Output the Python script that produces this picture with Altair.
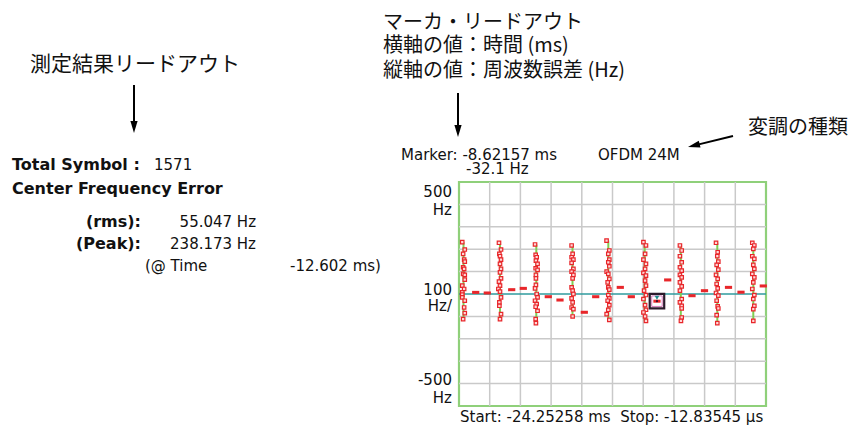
import altair as alt
import pandas as pd

# ---------------- data ----------------
T_START, T_STOP = -24.25258, -0.01283545   # ms
Y_MIN, Y_MAX = -500, 500                    # Hz

cluster_time = [-23.897, -21.015, -18.149, -15.291, -12.464, -9.590, -6.739, -3.858, -1.015]
cluster_hz = [
    [231.4, 198.6, 179.4, 153.8, 144.8, 119.3, 112.1, 89.7, 85.2, 64.1, 37.2, 22.4, 7.2, -3.1, -15.2, -30.0, -60.1, -85.2, -112.1],
    [228.7, 198.6, 179.4, 168.6, 153.8, 134.5, 112.1, 96.9, 70.0, 55.2, 37.2, 22.4, 10.3, -15.2, -37.7, -52.5, -89.7, -112.1],
    [221.1, 174.9, 164.1, 149.3, 134.5, 114.8, 107.6, 85.2, 70.0, 40.4, 25.1, 0.0, -15.2, -30.0, -44.8, -56.9, -74.9, -112.1, -130.0],
    [216.6, 179.4, 164.1, 153.8, 139.0, 112.1, 100.0, 85.2, 70.0, 29.6, 14.8, 0.0, -19.7, -37.7, -60.1, -67.3, -100.4],
    [238.173, 194.2, 179.4, 153.8, 141.7, 123.8, 100.0, 89.7, 67.3, 52.0, 29.6, 19.3, -4.5, -19.7, -30.0, -49.3, -70.4, -89.7, -115.2],
    [231.4, 216.6, 179.4, 153.8, 134.5, 112.1, 94.2, 82.1, 59.6, 37.2, 14.8, -4.5, -22.4, -49.3, -70.4, -82.5, -100.4, -119.7],
    [216.6, 194.2, 168.6, 141.7, 119.3, 104.5, 85.2, 74.4, 52.0, 34.1, 14.8, -22.4, -37.7, -52.5, -64.6, -104.9, -119.7],
    [228.7, 186.5, 168.6, 144.8, 130.0, 109.0, 85.2, 67.3, 44.8, 25.1, 4.5, -7.6, -30.0, -55.6, -64.6, -94.2, -130.0],
    [228.7, 216.6, 201.8, 168.6, 156.9, 130.0, 112.1, 89.7, 74.4, 52.0, 22.4, -4.5, -22.4, -52.5, -67.3, -119.7],
]
cluster_dt = [
    [-0.10, 0.10, -0.03, 0.05, 0.10, -0.03, 0.05, -0.03, 0.10, 0.10, -0.10, 0.05, -0.10, -0.10, -0.10, 0.10, 0.05, 0.10, -0.03],
    [-0.08, 0.08, -0.05, 0.0, 0.08, 0.0, 0.08, 0.0, 0.08, -0.08, 0.0, -0.13, 0.0, 0.08, -0.05, -0.05, 0.08, 0.0],
    [-0.10, -0.05, 0.03, -0.03, 0.10, -0.05, 0.10, -0.03, -0.03, -0.03, -0.10, 0.03, 0.10, -0.10, 0.03, -0.05, 0.10, -0.05, -0.03],
    [-0.07, 0.01, -0.07, 0.07, -0.07, 0.07, -0.07, 0.07, 0.01, -0.07, 0.01, 0.07, -0.07, 0.01, -0.07, 0.07, 0.01],
    [-0.138, 0.08, 0.0, 0.08, 0.0, 0.08, -0.13, 0.0, 0.08, -0.05, 0.0, 0.08, 0.0, 0.08, -0.05, 0.08, 0.0, -0.13, 0.08],
    [-0.10, 0.10, 0.03, -0.10, 0.10, 0.03, -0.10, 0.10, 0.03, 0.10, -0.05, 0.10, -0.10, 0.03, 0.10, -0.10, 0.03, 0.10],
    [-0.07, 0.07, -0.07, 0.07, -0.07, 0.07, -0.07, 0.07, -0.07, 0.07, -0.07, 0.07, -0.07, 0.07, 0.07, 0.07, 0.01],
    [-0.10, 0.03, 0.0, 0.08, -0.05, 0.08, -0.10, 0.03, -0.05, 0.03, -0.10, 0.08, -0.05, 0.03, 0.08, -0.05, 0.0],
    [-0.08, 0.08, 0.0, -0.08, 0.08, 0.0, 0.08, -0.08, 0.08, 0.0, -0.08, 0.08, 0.0, 0.08, 0.0, 0.0],
]
gap_time = [-22.934, -22.018, -20.092, -19.176, -17.202, -16.278, -14.359, -13.459, -11.517,
            -10.648, -8.62157, -7.774, -5.856, -4.869, -2.974, -1.987, -0.226]
gap_hz = [7.2, 4.5, 19.3, 25.1, -12.1, -26.9, -81.6, -12.1, 29.6,
          -12.1, -32.1, 62.8, -7.6, 14.8, 29.6, 8.1, 35.9]
marker_time = [-8.62157]
marker_hz = [-32.1]

y_grid = [-400, -300, -200, -100, 100, 200, 300, 400]

# text annotations (absolute page pixel positions)
cjk_texts = ["測定結果リードアウト", "マーカ・リードアウト", "横軸の値：時間 (ms)", "縦軸の値：周波数誤差 (Hz)", "変調の種類"]
cjk_x = [30, 383, 383, 383, 748]
cjk_y = [65, 23, 46, 71, 128]
cjk_size = [21, 20, 20, 20, 20]

bold_l_texts = ["Total Symbol :", "Center Frequency Error"]
bold_l_x = [12, 12]
bold_l_y = [170, 194]

bold_r_texts = ["(rms):", "(Peak):"]
bold_r_x = [141, 141]
bold_r_y = [227, 249]

reg_l_texts = ["1571", "(@ Time", "-12.602 ms)", "Marker: -8.62157 ms", "OFDM 24M", "-32.1 Hz",
               "Start: -24.25258 ms\u00a0\u00a0Stop: -12.83545 µs"]
reg_l_x = [154, 145, 290, 401, 598, 466, 460]
reg_l_y = [170, 271, 271, 160, 160, 174, 422]

reg_r_texts = ["55.047 Hz", "238.173 Hz", "500", "Hz", "100", "Hz/", "-500", "Hz"]
reg_r_x = [256, 256, 452, 452, 452, 452, 452, 452]
reg_r_y = [227, 249, 197, 215, 295, 311, 385, 403]

# arrows: (x1, y1) -> tip (x2, y2)
arrow_x1 = [134, 458, 733]
arrow_y1 = [85, 93, 136]
arrow_x2 = [134, 458, 688]
arrow_y2 = [133, 137, 147]
arrow_angle = [0, 0, 76]

# ---------------- layout ----------------
PAD_L, PAD_T, PAD_R, PAD_B = 459, 182, 94, 22
W, H = 860 - PAD_L - PAD_R, 428 - PAD_T - PAD_B

xs = alt.Scale(domain=[T_START, T_STOP], nice=False, zero=False)
ys = alt.Scale(domain=[Y_MIN, Y_MAX], nice=False, zero=False)

rows = []
for i, (tc, hz_list, dt_list) in enumerate(zip(cluster_time, cluster_hz, cluster_dt)):
    for hz, dt in zip(hz_list, dt_list):
        rows.append({"cluster": i, "tc": tc, "t": tc + dt, "hz": hz})
pts = pd.DataFrame(rows)
gaps = pd.DataFrame({"t": gap_time, "hz": gap_hz})
mk = pd.DataFrame({"t": marker_time, "hz": marker_hz})

step = (T_STOP - T_START) / 10
xg = pd.DataFrame({"t": [T_START + step * k for k in range(1, 10)]})
yg = pd.DataFrame({"hz": y_grid})

GRID = "#c9c9c9"
vgrid = alt.Chart(xg).mark_rule(color=GRID, strokeWidth=1.5).encode(
    x=alt.X("t:Q", scale=xs, axis=None))
hgrid = alt.Chart(yg).mark_rule(color=GRID, strokeWidth=1.5).encode(
    y=alt.Y("hz:Q", scale=ys, axis=None))
zero = alt.Chart(pd.DataFrame({"hz": [0]})).mark_rule(color="#2f9b9e", strokeWidth=1.6).encode(
    y=alt.Y("hz:Q", scale=ys, axis=None))

lines = alt.Chart(pts).mark_line(color="#7fcf52", strokeWidth=2).encode(
    x=alt.X("tc:Q", scale=xs, axis=None),
    y=alt.Y("hz:Q", scale=ys, axis=None),
    detail="cluster:N",
    order="hz:Q")
squares = alt.Chart(pts).mark_point(shape="square", filled=True, fill="#ffd6d6", stroke="#e8262a",
                                    strokeWidth=1.2, size=12, opacity=1).encode(
    x=alt.X("t:Q", scale=xs, axis=None),
    y=alt.Y("hz:Q", scale=ys, axis=None))
dashes = alt.Chart(gaps).mark_point(shape="M-1,-0.42L1,-0.42L1,0.42L-1,0.42Z", filled=True,
                                    color="#e8262a", size=52, opacity=1).encode(
    x=alt.X("t:Q", scale=xs, axis=None),
    y=alt.Y("hz:Q", scale=ys, axis=None))

mk_outer = alt.Chart(mk).mark_point(shape="square", filled=False, stroke="#2b1a2b", strokeWidth=2.2,
                                    size=210, opacity=1).encode(
    x=alt.X("t:Q", scale=xs, axis=None), y=alt.Y("hz:Q", scale=ys, axis=None))
mk_inner = alt.Chart(mk).mark_point(shape="square", filled=False, stroke="#d27cba", strokeWidth=1,
                                    size=110, opacity=1).encode(
    x=alt.X("t:Q", scale=xs, axis=None), y=alt.Y("hz:Q", scale=ys, axis=None))
mk_tri = alt.Chart(mk).mark_point(shape="triangle-down", filled=True, color="#1f8c8c", size=22,
                                  opacity=1, yOffset=-3.5).encode(
    x=alt.X("t:Q", scale=xs, axis=None), y=alt.Y("hz:Q", scale=ys, axis=None))
mk_dot = alt.Chart(mk).mark_point(shape="circle", filled=True, color="#3a1030", size=5,
                                  opacity=1).encode(
    x=alt.X("t:Q", scale=xs, axis=None), y=alt.Y("hz:Q", scale=ys, axis=None))


def text_layer(texts, xs_px, ys_px, font, size, weight, align, baseline, sizes=None):
    df = pd.DataFrame({"text": texts,
                       "px": [v - PAD_L for v in xs_px],
                       "py": [v - PAD_T for v in ys_px],
                       "fs": sizes if sizes is not None else [size] * len(texts)})
    return alt.Chart(df).mark_text(font=font, fontWeight=weight, align=align,
                                   baseline=baseline, color="#111111").encode(
        x=alt.X("px:Q", scale=None), y=alt.Y("py:Q", scale=None), text="text:N",
        size=alt.Size("fs:Q", scale=None, legend=None))


LAT = "DejaVu Sans"
t_cjk = text_layer(cjk_texts, cjk_x, cjk_y, "Noto Sans CJK JP", 20, "normal", "left", "middle", cjk_size)
t_bl = text_layer(bold_l_texts, bold_l_x, bold_l_y, LAT, 16, "bold", "left", "alphabetic")
t_br = text_layer(bold_r_texts, bold_r_x, bold_r_y, LAT, 16, "bold", "right", "alphabetic")
t_rl = text_layer(reg_l_texts, reg_l_x, reg_l_y, LAT, 15, "normal", "left", "alphabetic")
t_rr = text_layer(reg_r_texts, reg_r_x, reg_r_y, LAT, 15, "normal", "right", "alphabetic")

arr = pd.DataFrame({"x1": [v - PAD_L for v in arrow_x1], "y1": [v - PAD_T for v in arrow_y1],
                    "x2": [v - PAD_L for v in arrow_x2], "y2": [v - PAD_T for v in arrow_y2],
                    "ang": arrow_angle})
arr["len"] = ((arr.x2 - arr.x1) ** 2 + (arr.y2 - arr.y1) ** 2) ** 0.5
arr["hx"] = arr.x2 - (arr.x2 - arr.x1) / arr["len"] * 6
arr["hy"] = arr.y2 - (arr.y2 - arr.y1) / arr["len"] * 6
arr["sx"] = arr.x2 - (arr.x2 - arr.x1) / arr["len"] * 9
arr["sy"] = arr.y2 - (arr.y2 - arr.y1) / arr["len"] * 9

shafts = alt.Chart(arr).mark_rule(color="#000000", strokeWidth=2).encode(
    x=alt.X("x1:Q", scale=None), y=alt.Y("y1:Q", scale=None), x2="sx:Q", y2="sy:Q")
heads = alt.Chart(arr).mark_point(shape="M0,1L-0.6,-1L0.6,-1Z", filled=True, color="#000000",
                                  size=144, opacity=1).encode(
    x=alt.X("hx:Q", scale=None), y=alt.Y("hy:Q", scale=None), angle=alt.Angle("ang:Q", scale=None))

chart = alt.layer(
    vgrid, hgrid, zero, lines, squares, dashes, mk_outer, mk_inner, mk_tri, mk_dot,
    t_cjk, t_bl, t_br, t_rl, t_rr, shafts, heads
).properties(
    width=W, height=H,
    padding={"left": PAD_L, "top": PAD_T, "right": PAD_R, "bottom": PAD_B},
    autosize=alt.AutoSizeParams(type="none"),
    background="white",
).configure_view(stroke="#8fd07a", strokeWidth=2.2)

chart.save("out.html", embed_options={"renderer": "svg", "actions": False})
